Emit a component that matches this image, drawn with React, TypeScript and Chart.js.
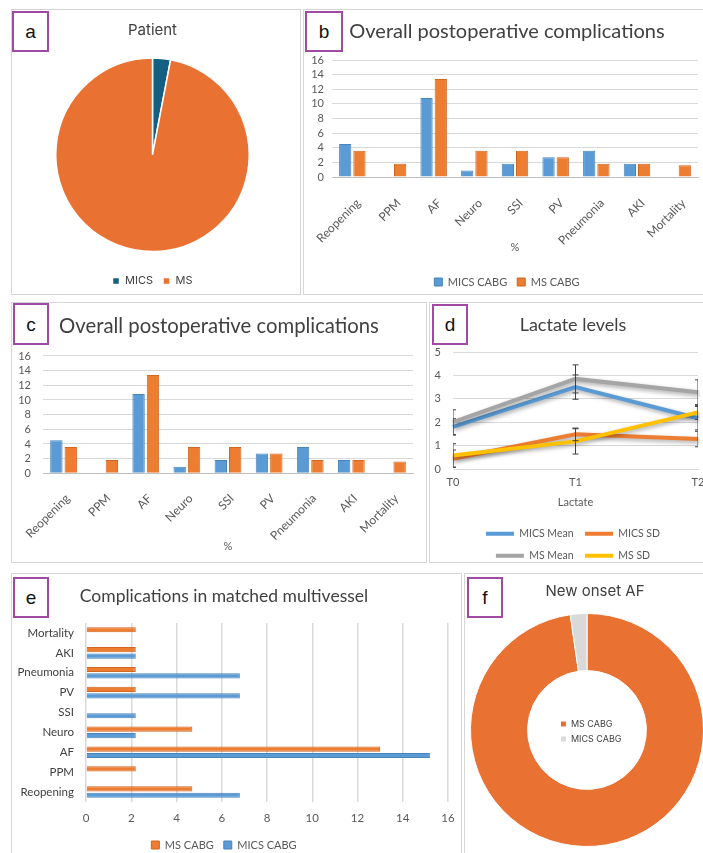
import React, { useEffect, useRef } from 'react';
import { Chart, registerables } from 'chart.js';

Chart.register(...registerables);

// ---------------- data ----------------
const patientLabels = ['MICS', 'MS'];
const patientShares = [3, 97];

const complicationLabels = ['Reopening', 'PPM', 'AF', 'Neuro', 'SSI', 'PV', 'Pneumonia', 'AKI', 'Mortality'];
const overallMicsCabg = [4.5, 0, 10.8, 0.9, 1.8, 2.7, 3.6, 1.8, 0];
const overallMsCabg = [3.6, 1.8, 13.4, 3.6, 3.6, 2.7, 1.8, 1.8, 1.6];
const percentMin = 0;
const percentMax = 16;
const percentStep = 2;

const lactateTimes = ['T0', 'T1', 'T2'];
const lactateMicsMean = [1.8, 3.5, 2.17];
const lactateMicsSd = [0.44, 1.48, 1.28];
const lactateMsMean = [2.0, 3.85, 3.28];
const lactateMsSd = [0.58, 1.18, 2.42];
const lactateMicsMeanErr = [0.35, 0.52, 0.5];
const lactateMicsSdErr = [0.37, 0.27, 0.33];
const lactateMsMeanErr = [0.53, 0.6, 0.53];
const lactateMsSdErr = [0.5, 0.54, 0.3];
const lactateMin = 0;
const lactateMax = 5;
const lactateStep = 1;

const matchedLabels = ['Mortality', 'AKI', 'Pneumonia', 'PV', 'SSI', 'Neuro', 'AF', 'PPM', 'Reopening'];
const matchedMsCabg = [2.2, 2.2, 2.2, 2.2, 0, 4.7, 13, 2.2, 4.7];
const matchedMicsCabg = [0, 2.2, 6.8, 6.8, 2.2, 2.2, 15.2, 0, 6.8];

const afLabels = ['MS CABG', 'MICS CABG'];
const afShares = [97.7, 2.3];

// ---------------- styles ----------------
const CALIBRI = 'Lato, "Noto Sans", sans-serif';
const APTOS = 'Inter, "Noto Sans", sans-serif';
const TEXT = '#595959';
const TITLE = '#404040';
const GRID = '#D9D9D9';
const BLUE = '#5B9BD5';
const BLUE_EDGE = '#4A84BA';
const ORANGE = '#ED7D31';
const ORANGE_EDGE = '#D0661F';
const PURPLE = '#A04AA4';

const font = (family: string, size: number) => ({ family, size, weight: 'normal' as const });
const fixW = (w: number) => (scale: any) => { scale.width = w; };
const fixH = (h: number) => (scale: any) => { scale.height = h; };

// ---------------- plugins ----------------
// Title and legend are centred on the whole chart object (as in Office charts)
const spanBlocksPlugin = {
  id: 'spanBlocks',
  afterLayout(chart: any) {
    [chart.titleBlock, chart.legend].forEach((b: any) => {
      if (!b || !b.options) return;
      const pos = b.options.position;
      if (pos !== 'top' && pos !== 'bottom') return;
      b.left = 0;
      b.right = chart.width;
      b.width = chart.width;
    });
  },
};

const errorBarPlugin = {
  id: 'lactateErrorBars',
  afterDatasetsDraw(chart: any) {
    const ctx = chart.ctx;
    const y = chart.scales.y;
    const area = chart.chartArea;
    ctx.save();
    ctx.beginPath();
    ctx.rect(area.left, area.top - 20, area.right - area.left, area.bottom - area.top + 20);
    ctx.clip();
    ctx.strokeStyle = '#404040';
    ctx.lineWidth = 1;
    chart.data.datasets.forEach((ds: any, i: number) => {
      const errs: number[] | undefined = ds.errorBars;
      if (!errs) return;
      const meta = chart.getDatasetMeta(i);
      meta.data.forEach((pt: any, j: number) => {
        const v = ds.data[j];
        const t = y.getPixelForValue(v + errs[j]);
        const b = y.getPixelForValue(v - errs[j]);
        const x = pt.x;
        ctx.beginPath();
        ctx.moveTo(x, t);
        ctx.lineTo(x, b);
        ctx.moveTo(x - 3, t);
        ctx.lineTo(x + 3, t);
        ctx.moveTo(x - 3, b);
        ctx.lineTo(x + 3, b);
        ctx.stroke();
      });
    });
    ctx.restore();
  },
};

const lineShadowPlugin = {
  id: 'lineShadow',
  beforeDatasetDraw(chart: any) {
    const c = chart.ctx;
    c.save();
    c.shadowColor = 'rgba(0,0,0,0.35)';
    c.shadowBlur = 4;
    c.shadowOffsetX = 1;
    c.shadowOffsetY = 2;
  },
  afterDatasetDraw(chart: any) {
    chart.ctx.restore();
  },
};

const holeLegendPlugin = {
  id: 'holeLegend',
  afterLayout(chart: any) {
    const lg = chart.legend;
    if (!lg) return;
    const area = chart.chartArea;
    const cx = (area.left + area.right) / 2;
    const cy = (area.top + area.bottom) / 2;
    const p = lg.options.labels.padding;
    const f = lg.options.labels.font.size;
    const content = lg.width - p - 10;
    const left = cx - content / 2 - p + 4;
    const top = cy - (p + f / 2 + (f + p) / 2) + 1.5;
    lg.left = left;
    lg.right = left + lg.width;
    lg.top = top;
    lg.bottom = top + lg.height;
  },
};

// ---------------- configs ----------------
function buildPatient() {
  return {
    type: 'pie',
    data: {
      labels: patientLabels,
      datasets: [{ data: patientShares, backgroundColor: ['#156082', '#E97132'], borderColor: '#FFFFFF', borderWidth: 1.5 }],
    },
    options: {
      responsive: false,
      animation: false,
      devicePixelRatio: 1,
      layout: { padding: { left: 43, right: 50, top: 0, bottom: 0.5 } },
      plugins: {
        title: { display: true, text: 'Patient', color: TITLE, font: font(APTOS, 15), padding: { top: 11, bottom: 5 } },
        legend: { position: 'bottom', labels: { color: TITLE, font: font(APTOS, 11), boxWidth: 7, boxHeight: 7, padding: 10 } },
        tooltip: { enabled: false },
      },
    },
  };
}

function buildOverall(o: {
  padL: number; padR: number; padB: number; yW: number; xH: number;
  titleSize: number; titleTop: number; titleBottom: number; pctBottom: number; yPad: number; xShift: number; xDrop: number; legend: boolean;
}) {
  return {
    type: 'bar',
    data: {
      labels: complicationLabels,
      datasets: [
        { label: 'MICS CABG', data: overallMicsCabg, backgroundColor: BLUE, borderColor: BLUE_EDGE, borderWidth: 1, categoryPercentage: 0.7, barPercentage: 0.86 },
        { label: 'MS CABG', data: overallMsCabg, backgroundColor: ORANGE, borderColor: ORANGE_EDGE, borderWidth: 1, categoryPercentage: 0.7, barPercentage: 0.86 },
      ],
    },
    options: {
      responsive: false,
      animation: false,
      devicePixelRatio: 1,
      layout: { padding: { left: o.padL, right: o.padR, top: 0, bottom: o.padB } },
      scales: {
        x: {
          grid: { display: false, tickLength: o.xDrop },
          border: { display: true, color: '#BFBFBF' },
          ticks: { autoSkip: false, minRotation: 45, maxRotation: 45, padding: 6, labelOffset: o.xShift, color: TEXT, font: font(CALIBRI, 12) },
          title: { display: true, text: '%', color: TEXT, font: font(CALIBRI, 11), padding: { top: 0, bottom: o.pctBottom } },
          afterFit: fixH(o.xH),
        },
        y: {
          min: percentMin,
          max: percentMax,
          ticks: { stepSize: percentStep, autoSkip: false, padding: o.yPad, color: TEXT, font: font(CALIBRI, 11) },
          grid: { color: GRID, drawTicks: false },
          border: { display: false },
          afterFit: fixW(o.yW),
        },
      },
      plugins: {
        title: { display: true, text: 'Overall postoperative complications', color: TITLE, font: font(CALIBRI, o.titleSize), padding: { top: o.titleTop, bottom: o.titleBottom } },
        legend: { display: o.legend, position: 'bottom', labels: { color: TEXT, font: font(CALIBRI, 11), boxWidth: 8, boxHeight: 8, padding: 10 } },
        tooltip: { enabled: false },
      },
    },
    plugins: [spanBlocksPlugin],
  };
}

function buildLactate() {
  const line = (label: string, data: number[], errs: number[], color: string, order: number) => ({
    label, data, errorBars: errs, borderColor: color, backgroundColor: color, borderWidth: 4,
    pointRadius: 0, tension: 0, fill: false, order,
  });
  return {
    type: 'line',
    data: {
      labels: lactateTimes,
      datasets: [
        line('MICS Mean', lactateMicsMean, lactateMicsMeanErr, BLUE, 3),
        line('MICS SD', lactateMicsSd, lactateMicsSdErr, ORANGE, 2),
        line('MS Mean', lactateMsMean, lactateMsMeanErr, '#A5A5A5', 1),
        line('MS SD', lactateMsSd, lactateMsSdErr, '#FFC000', 0),
      ],
    },
    options: {
      responsive: false,
      animation: false,
      devicePixelRatio: 1,
      layout: { padding: { left: 3, right: 18, top: 0, bottom: 2 } },
      scales: {
        x: {
          grid: { display: false, drawTicks: false },
          border: { display: true, color: GRID },
          ticks: { padding: 6.4, color: TEXT, font: font(CALIBRI, 11) },
          title: { display: true, text: 'Lactate', color: TEXT, font: font(CALIBRI, 11), padding: { top: 0, bottom: 8.4 } },
          afterFit: fixH(48),
        },
        y: {
          min: lactateMin,
          max: lactateMax,
          ticks: { stepSize: lactateStep, padding: 12, color: TEXT, font: font(CALIBRI, 11) },
          grid: { color: GRID, drawTicks: false },
          border: { display: false },
          afterFit: fixW(20),
        },
      },
      plugins: {
        title: { display: true, text: 'Lactate levels', color: TITLE, font: font(CALIBRI, 18), padding: { top: 11.2, bottom: 16.2 } },
        legend: {
          position: 'bottom',
          labels: {
            color: TEXT, font: font(CALIBRI, 10.5), usePointStyle: true, pointStyle: 'line', pointStyleWidth: 28, padding: 11.5,
            sort: (a: any, b: any) => a.datasetIndex - b.datasetIndex,
          },
        },
        tooltip: { enabled: false },
      },
    },
    plugins: [spanBlocksPlugin, lineShadowPlugin, errorBarPlugin],
  };
}

function buildMatched() {
  return {
    type: 'bar',
    data: {
      labels: matchedLabels,
      datasets: [
        { label: 'MS CABG', data: matchedMsCabg, backgroundColor: ORANGE, borderColor: ORANGE_EDGE, borderWidth: 1, categoryPercentage: 0.65, barPercentage: 0.8 },
        { label: 'MICS CABG', data: matchedMicsCabg, backgroundColor: BLUE, borderColor: BLUE_EDGE, borderWidth: 1, categoryPercentage: 0.65, barPercentage: 0.8 },
      ],
    },
    options: {
      indexAxis: 'y',
      responsive: false,
      animation: false,
      devicePixelRatio: 1,
      layout: { padding: { left: 20, right: 14, top: 0, bottom: 0.5 } },
      scales: {
        x: {
          min: percentMin,
          max: percentMax,
          ticks: { stepSize: percentStep, padding: 4.4, color: TEXT, font: font(CALIBRI, 11.5) },
          grid: { color: GRID, lineWidth: 1.5, drawTicks: true, tickLength: 5, tickColor: 'rgba(0,0,0,0)' },
          border: { display: false },
          afterFit: fixH(27.5),
        },
        y: {
          grid: { display: false, drawTicks: false },
          border: { display: false },
          ticks: { padding: 12, color: TITLE, font: font(CALIBRI, 11.5) },
          afterFit: fixW(80),
        },
      },
      plugins: {
        title: { display: true, text: 'Complications in matched multivessel', color: TITLE, font: font(CALIBRI, 17.5), padding: { top: 11.5, bottom: 16.5 } },
        legend: { position: 'bottom', labels: { color: TEXT, font: font(CALIBRI, 11), boxWidth: 8, boxHeight: 8, padding: 10 } },
        tooltip: { enabled: false },
      },
    },
    plugins: [spanBlocksPlugin],
  };
}

function buildAf() {
  return {
    type: 'doughnut',
    data: {
      labels: afLabels,
      datasets: [{ data: afShares, backgroundColor: ['#E97132', '#D9D9D9'], borderColor: '#FFFFFF', borderWidth: 1 }],
    },
    options: {
      responsive: false,
      animation: false,
      devicePixelRatio: 1,
      cutout: '51%',
      layout: { padding: { left: 5, right: 21, top: 0, bottom: 6 } },
      plugins: {
        title: { display: true, text: 'New onset AF', color: TITLE, font: font(APTOS, 15), padding: { top: 8, bottom: 13 } },
        legend: { position: 'chartArea', align: 'start', labels: { color: TITLE, font: font(APTOS, 9), boxWidth: 6, boxHeight: 6, padding: 6 } },
        tooltip: { enabled: false },
      },
    },
    plugins: [spanBlocksPlugin, holeLegendPlugin],
  };
}

// ---------------- components ----------------
function ChartCanvas(props: { left: number; top: number; width: number; height: number; build: () => any }) {
  const ref = useRef<HTMLCanvasElement | null>(null);
  const { left, top, width, height, build } = props;
  useEffect(() => {
    const canvas = ref.current;
    if (!canvas) return;
    const chart = new Chart(canvas, build());
    return () => chart.destroy();
  }, []);
  return (
    <canvas
      ref={ref}
      width={width}
      height={height}
      style={{ position: 'absolute', left, top, width, height, display: 'block' }}
    />
  );
}

function Frame(props: { left: number; top: number; width: number; height: number }) {
  const { left, top, width, height } = props;
  return (
    <div
      style={{
        position: 'absolute', left, top, width, height, boxSizing: 'border-box',
        border: '1px solid #D6D6D6', background: 'transparent',
      }}
    />
  );
}

function Tag(props: { left: number; top: number; width: number; height: number; text: string }) {
  const { left, top, width, height, text } = props;
  return (
    <div
      style={{
        position: 'absolute', left, top, width, height, boxSizing: 'border-box',
        border: `2px solid ${PURPLE}`, background: '#FFFFFF', display: 'flex',
        alignItems: 'center', justifyContent: 'center',
        fontFamily: '"Liberation Sans", Arial, sans-serif', fontSize: 19, color: '#111111', lineHeight: 1,
      }}
    >
      {text}
    </div>
  );
}

export default function App() {
  return (
    <div
      style={{
        position: 'absolute', left: 0, top: 0, width: 703, height: 853, overflow: 'hidden', background: '#FFFFFF',
      }}
    >
      <Frame left={11} top={9} width={290} height={286} />
      <Frame left={303} top={9} width={420} height={286} />
      <Frame left={11} top={302} width={416} height={261} />
      <Frame left={429} top={302} width={300} height={261} />
      <Frame left={11} top={573} width={451} height={300} />
      <Frame left={464} top={573} width={300} height={300} />

      <ChartCanvas left={12} top={10} width={288} height={287} build={buildPatient} />
      <ChartCanvas
        left={304} top={10} width={406} height={290}
        build={() => buildOverall({ padL: 4, padR: 12, padB: 2.5, yW: 24, xH: 89.5, titleSize: 20, titleTop: 10, titleBottom: 16, pctBottom: 12.9, yPad: 8, xShift: 6, xDrop: 13, legend: true })}
      />
      <ChartCanvas
        left={12} top={303} width={414} height={260}
        build={() => buildOverall({ padL: 5, padR: 13, padB: 0, yW: 26, xH: 89.7, titleSize: 20.3, titleTop: 11, titleBottom: 17.6, pctBottom: 10.4, yPad: 12, xShift: 4, xDrop: 12, legend: false })}
      />
      <ChartCanvas left={430} top={303} width={286} height={270} build={buildLactate} />
      <ChartCanvas left={-14} top={574} width={476} height={287} build={buildMatched} />
      <ChartCanvas left={465} top={574} width={260} height={279} build={buildAf} />

      <Tag left={12} top={11} width={37} height={41} text="a" />
      <Tag left={305} top={11} width={38} height={41} text="b" />
      <Tag left={13} top={303} width={36} height={42} text="c" />
      <Tag left={432} top={304} width={36} height={41} text="d" />
      <Tag left={13} top={577} width={36} height={41} text="e" />
      <Tag left={467} top={577} width={36} height={41} text="f" />
    </div>
  );
}
